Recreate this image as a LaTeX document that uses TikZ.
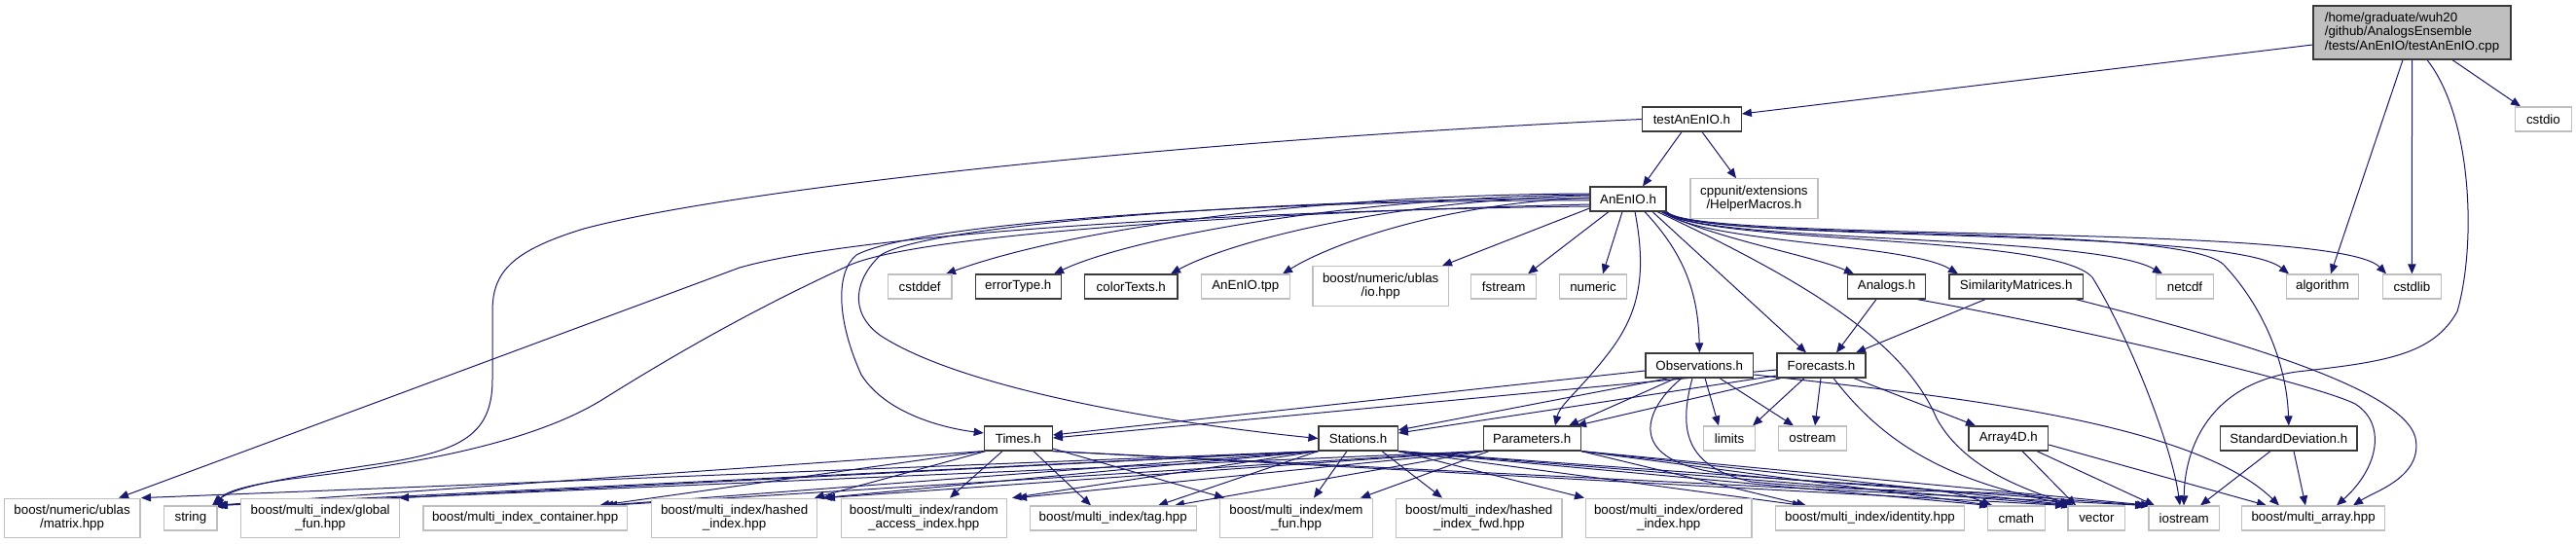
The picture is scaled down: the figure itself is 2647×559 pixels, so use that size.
\documentclass[tikz,border=0pt]{standalone}
\usepackage{fontspec}
\setmainfont{Liberation Sans}
\usetikzlibrary{arrows.meta,backgrounds}
\definecolor{edgec}{HTML}{191970}
\definecolor{sysc}{HTML}{BFBFBF}
\definecolor{hdrc}{HTML}{3A3A3A}
\begin{document}
\begin{tikzpicture}[x=0.75pt,y=0.75pt,
  nd/.style={rectangle, inner sep=0pt, minimum height=18.75pt, font=\fontsize{10}{10.5}\selectfont, align=center, fill=white, line width=0.9pt},
  hdr/.style={nd, draw=hdrc},
  sys/.style={nd, draw=sysc},
  two/.style={minimum height=30.4pt},
  wd/.style={minimum width=#1*0.75pt},
  e/.style={draw=edgec, line width=0.75pt, -{Triangle[length=7.5pt,width=6.2pt]}},
]
\useasboundingbox (0,0) rectangle (2647,-559);
% ---------------- nodes ----------------
\node[nd, draw=hdrc, fill=sysc, wd=203, minimum height=41.25pt, align=left, font=\fontsize{10}{11}\selectfont] (R) at (2478.5,-33.5) {/home/graduate/wuh20\\/github/AnalogsEnsemble\\/tests/AnEnIO/testAnEnIO.cpp};
\node[sys, wd=58] (cstdio) at (2613.4,-122.5) {cstdio};
\node[hdr, wd=101.7] (T) at (1738.4,-122.5) {testAnEnIO.h};
\node[hdr, wd=78] (A) at (1673,-204.5) {AnEnIO.h};
\node[sys, two, wd=131] (helper) at (1802.4,-204) {cppunit/extensions\\/HelperMacros.h};
% row 2
\node[sys, wd=65.4] (cstddef) at (945.2,-294.5) {cstddef};
\node[hdr, wd=88] (errT) at (1046.3,-294.5) {errorType.h};
\node[hdr, wd=95.3] (colT) at (1162.3,-294.5) {colorTexts.h};
\node[sys, wd=91] (tpp) at (1279.8,-294.5) {AnEnIO.tpp};
\node[sys, two, wd=139.3] (io) at (1418.7,-294) {boost/numeric/ublas\\/io.hpp};
\node[sys, wd=66.7] (fstream) at (1545.2,-294.5) {fstream};
\node[sys, wd=68.4] (numeric) at (1637,-294.5) {numeric};
\node[hdr, wd=80] (analogs) at (1938.5,-294.5) {Analogs.h};
\node[hdr, wd=137.4] (simmat) at (2071.7,-294.5) {SimilarityMatrices.h};
\node[sys, wd=58.7] (netcdf) at (2245,-294.5) {netcdf};
\node[sys, wd=74.5] (algorithm) at (2386.5,-294.5) {algorithm};
\node[sys, wd=60] (cstdlib) at (2478.4,-294.5) {cstdlib};
% row 3
\node[hdr, wd=110.7] (obs) at (1746.3,-375.5) {Observations.h};
\node[hdr, wd=91] (fc) at (1871.5,-375.5) {Forecasts.h};
% row 4
\node[hdr, wd=70] (times) at (1046.3,-450.5) {Times.h};
\node[hdr, wd=81.2] (stations) at (1395.6,-450.5) {Stations.h};
\node[hdr, wd=100] (params) at (1574.2,-450.5) {Parameters.h};
\node[sys, wd=53.4] (limits) at (1777,-450.5) {limits};
\node[sys, wd=69.7] (ostream) at (1862.5,-450.5) {ostream};
\node[hdr, wd=81.7] (arr4d) at (2063.8,-450.5) {Array4D.h};
\node[hdr, wd=140.4] (stddev) at (2351.8,-450.5) {StandardDeviation.h};
% row 5
\node[sys, two, wd=139.7] (matrix) at (74.1,-532.5) {boost/numeric/ublas\\/matrix.hpp};
\node[sys, wd=54.2] (string) at (195.9,-532.5) {string};
\node[sys, two, wd=162.8] (global) at (329.2,-532.5) {boost/multi\_index/global\\\_fun.hpp};
\node[sys, wd=209.4] (container) at (539.7,-532.5) {boost/multi\_index\_container.hpp};
\node[sys, two, wd=170.5] (hashed) at (754.6,-532.5) {boost/multi\_index/hashed\\\_index.hpp};
\node[sys, two, wd=170] (random) at (949.3,-532.5) {boost/multi\_index/random\\\_access\_index.hpp};
\node[sys, wd=171] (tag) at (1143.7,-532.5) {boost/multi\_index/tag.hpp};
\node[sys, two, wd=157] (mem) at (1332,-532.5) {boost/multi\_index/mem\\\_fun.hpp};
\node[sys, two, wd=170.5] (fwd) at (1519.8,-532.5) {boost/multi\_index/hashed\\\_index\_fwd.hpp};
\node[sys, two, wd=170.5] (ordered) at (1714.7,-532.5) {boost/multi\_index/ordered\\\_index.hpp};
\node[sys, wd=194.5] (identity) at (1921.5,-532.5) {boost/multi\_index/identity.hpp};
\node[sys, wd=58.7] (cmath) at (2071.8,-532.5) {cmath};
\node[sys, wd=58.8] (vector) at (2154.4,-532.5) {vector};
\node[sys, wd=72.3] (iostream) at (2244.2,-532.5) {iostream};
\node[sys, wd=146.8] (marray) at (2377.1,-532.5) {boost/multi\_array.hpp};
% ---------------- edges ----------------
\begin{scope}[on background layer]
\fill[white] (0,0) rectangle (2647,-559);
% root
\draw[e] (R.west |- 0,-46) -- (T.east |- 0,-117);
\draw[e] (2469,0 |- R.south) -- (2395,0 |- algorithm.north);
\draw[e] (R.south) -- (cstdlib.north);
\draw[e] (2494,0 |- R.south) .. controls (2540,-120) and (2545,-250) .. (2525,-320) .. controls (2500,-365) and (2450,-372) .. (2360,-382) .. controls (2270,-395) and (2245,-460) .. (2244,0 |- iostream.north);
\draw[e] (2520,0 |- R.south) -- (2590,0 |- cstdio.north);
% testAnEnIO.h
\draw[e] (1728,0 |- T.south) -- (1688,0 |- A.north);
\draw[e] (1749,0 |- T.south) -- (1784,0 |- helper.north);
\draw[e] (T.west) .. controls (1200,-145) and (750,-195) .. (600,-235) .. controls (525,-258) and (506,-280) .. (506,-320) -- (506,-390) .. controls (506,-450) and (470,-465) .. (380,-478) .. controls (300,-490) and (240,-500) .. (218,0 |- string.north);
% AnEnIO.h left
\draw[e] (A.west |- 0,-212) .. controls (1350,-215) and (900,-235) .. (760,-275) -- (122,0 |- matrix.north);
\draw[e] (A.west |- 0,-210) .. controls (1300,-218) and (950,-240) .. (874,-272) .. controls (780,-315) and (700,-360) .. (620,-410) .. controls (540,-460) and (400,-480) .. (300,-492) .. controls (255,-498) and (232,-505) .. (221,0 |- string.north);
\draw[e] (A.west |- 0,-206) .. controls (1350,-205) and (950,-225) .. (880,-262) .. controls (858,-280) and (860,-330) .. (885,-385) .. controls (910,-425) and (970,-440) .. (times.west |- 0,-445);
\draw[e] (A.west |- 0,-204) .. controls (1350,-203) and (960,-228) .. (905,-262) .. controls (880,-285) and (870,-320) .. (905,-345) .. controls (990,-400) and (1200,-435) .. (stations.west);
\draw[e] (A.west |- 0,-199) .. controls (1350,-200) and (1100,-235) .. (972,0 |- cstddef.north);
\draw[e] (A.west |- 0,-200) .. controls (1380,-203) and (1160,-245) .. (1083,0 |- errT.north);
\draw[e] (A.west |- 0,-201) .. controls (1420,-206) and (1260,-250) .. (1203,0 |- colT.north);
\draw[e] (A.west |- 0,-203) .. controls (1470,-210) and (1360,-255) .. (1318,0 |- tpp.north);
\draw[e] (A.west |- 0,-214) -- (1482,0 |- io.north);
\draw[e] (1653,0 |- A.south) -- (1570,0 |- fstream.north);
\draw[e] (1667,0 |- A.south) -- (1647,0 |- numeric.north);
% AnEnIO.h down
\draw[e] (1680,0 |- A.south) .. controls (1692,-280) and (1685,-320) .. (1655,-360) .. controls (1625,-400) and (1603,-415) .. (1598,0 |- params.north);
\draw[e] (1690,0 |- A.south) .. controls (1730,-260) and (1745,-300) .. (obs.north);
\draw[e] (1698,0 |- A.south) -- (1856,0 |- fc.north);
\draw[e] (1703,0 |- A.south) .. controls (1880,-300) and (1960,-360) .. (1990,-430) .. controls (2020,-485) and (2090,-505) .. (2128,0 |- vector.north);
% AnEnIO.h right (passing below HelperMacros.h)
\draw[e] (1707,0 |- A.south) .. controls (1760,-245) and (1860,-262) .. (1905,0 |- analogs.north);
\draw[e] (1709,0 |- A.south) .. controls (1750,-250) and (1960,-250) .. (2012,0 |- simmat.north);
\draw[e] (1710,0 |- A.south) .. controls (1745,-250) and (2150,-240) .. (2222,0 |- netcdf.north);
\draw[e] (1711,0 |- A.south) .. controls (1742,-250) and (2290,-232) .. (2352,0 |- algorithm.north);
\draw[e] (A.south east) .. controls (1740,-250) and (2400,-228) .. (2452,0 |- cstdlib.north);
\draw[e] (A.south east) .. controls (1745,-250) and (2240,-228) .. (2285,-272) .. controls (2330,-320) and (2350,-380) .. (stddev.north);
\draw[e] (1708,0 |- A.south) .. controls (1760,-252) and (2110,-240) .. (2150,-285) .. controls (2190,-350) and (2232,-460) .. (2240,0 |- iostream.north);
% Observations.h
\draw[e] (obs.west |- 0,-381) -- (times.east |- 0,-447);
\draw[e] (1715,0 |- obs.south) -- (stations.east |- 0,-442);
\draw[e] (1722,0 |- obs.south) -- (1612,0 |- params.north);
\draw[e] (1752,0 |- obs.south) -- (1766,0 |- limits.north);
\draw[e] (1767,0 |- obs.south) -- (1843,0 |- ostream.north);
\draw[e] (1728,0 |- obs.south) .. controls (1690,-420) and (1670,-470) .. (1760,-485) .. controls (1880,-500) and (1990,-495) .. (2046,0 |- cmath.north);
\draw[e] (1739,0 |- obs.south) .. controls (1725,-440) and (1730,-480) .. (1800,-495) .. controls (1950,-510) and (2080,-500) .. (2126,0 |- vector.north);
\draw[e] (obs.east |- 0,-385) .. controls (1980,-405) and (2250,-430) .. (2342,0 |- marray.north);
% Forecasts.h
\draw[e] (fc.west |- 0,-386) -- (stations.east |- 0,-445);
\draw[e] (1830,0 |- fc.south) -- (1620,0 |- params.north);
\draw[e] (fc.west |- 0,-380) -- (times.east |- 0,-450);
\draw[e] (1854,0 |- fc.south) -- (1801,0 |- limits.north);
\draw[e] (1871,0 |- fc.south) -- (1865,0 |- ostream.north);
\draw[e] (1905,0 |- fc.south) -- (2030,0 |- arr4d.north);
\draw[e] (1884,0 |- fc.south) .. controls (1935,-455) and (2000,-495) .. (2131,0 |- vector.north);
% Analogs.h, SimilarityMatrices.h
\draw[e] (1928,0 |- analogs.south) -- (1887,0 |- fc.north);
\draw[e] (1970,0 |- analogs.south) .. controls (2150,-340) and (2380,-395) .. (2420,-415) .. controls (2452,-435) and (2445,-480) .. (2401,0 |- marray.north);
\draw[e] (2040,0 |- simmat.south) -- (1907,0 |- fc.north);
\draw[e] (2133,0 |- simmat.south) .. controls (2300,-350) and (2470,-400) .. (2482,-450) .. controls (2490,-490) and (2440,-505) .. (2418,0 |- marray.north);
% StandardDeviation.h, Array4D.h
\draw[e] (2333,0 |- stddev.south) -- (2261,0 |- iostream.north);
\draw[e] (2357,0 |- stddev.south) -- (2369,0 |- marray.north);
\draw[e] (2078,0 |- arr4d.south) -- (2133,0 |- vector.north);
\draw[e] (2093,0 |- arr4d.south) -- (2214,0 |- iostream.north);
\draw[e] (arr4d.east |- 0,-457) -- (2329,0 |- marray.north);
% Times.h
\draw[e] (1013,0 |- times.south) -- (837,0 |- hashed.north);
\draw[e] (1030,0 |- times.south) -- (976,0 |- random.north);
\draw[e] (1062,0 |- times.south) -- (1121,0 |- tag.north);
\draw[e] (times.east |- 0,-461) -- (1258,0 |- mem.north);
\draw[e] (times.south west) -- (219,0 |- string.north);
\draw[e] (times.south west) -- (616,0 |- container.north);
\draw[e] (times.south east) -- (2122,0 |- vector.north);
\draw[e] (times.south east) -- (2204,0 |- iostream.north);
% Stations.h
\draw[e] (1384,0 |- stations.south) -- (1350,0 |- mem.north);
\draw[e] (1420,0 |- stations.south) -- (1482,0 |- fwd.north);
\draw[e] (stations.south east) -- (1628,0 |- ordered.north);
\draw[e] (stations.south east) -- (1852,0 |- identity.north);
\draw[e] (stations.south west) -- (845,0 |- hashed.north);
\draw[e] (stations.south west) -- (1040,0 |- random.north);
\draw[e] (stations.south west) -- (1190,0 |- tag.north);
\draw[e] (stations.south west) -- (620,0 |- container.north);
\draw[e] (stations.south west) -- (410,0 |- global.north);
\draw[e] (stations.south west) -- (145,0 |- matrix.north);
\draw[e] (stations.south west) -- (222,0 |- string.north);
\draw[e] (stations.south east) -- (2044,0 |- cmath.north);
\draw[e] (stations.south east) -- (2128,0 |- vector.north);
\draw[e] (stations.south east) -- (2206,0 |- iostream.north);
% Parameters.h
\draw[e] (1530,0 |- params.south) -- (1398,0 |- mem.north);
\draw[e] (params.south east) -- (1856,0 |- identity.north);
\draw[e] (params.south west) -- (848,0 |- hashed.north);
\draw[e] (params.south west) -- (1045,0 |- random.north);
\draw[e] (params.south west) -- (1207,0 |- tag.north);
\draw[e] (params.south west) -- (624,0 |- container.north);
\draw[e] (params.south west) -- (224,0 |- string.north);
\draw[e] (params.south east) -- (2048,0 |- cmath.north);
\draw[e] (params.south east) -- (2131,0 |- vector.north);
\draw[e] (params.south east) -- (2210,0 |- iostream.north);
\end{scope}
\end{tikzpicture}
\end{document}
